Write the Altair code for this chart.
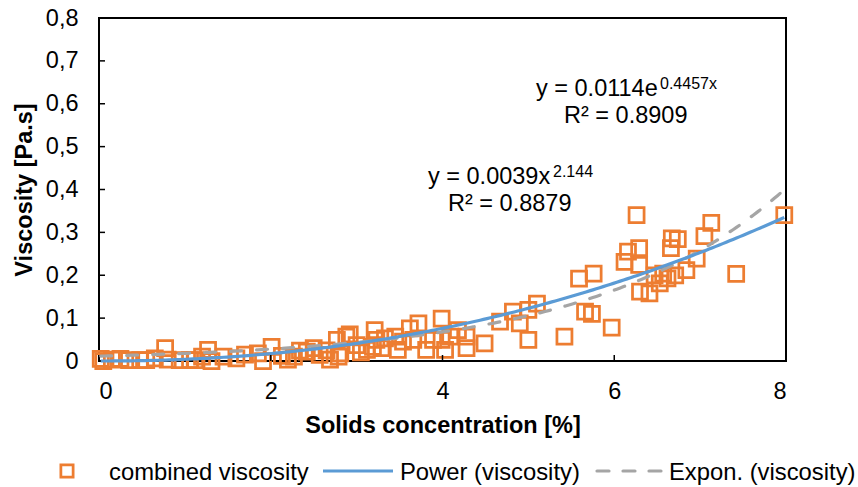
import altair as alt
import pandas as pd

# Measured viscosity against solids concentration
solids = [
    0.02, 0.05, 0.15, 0.25, 0.35, 0.48, 0.55, 0.65, 0.77, 0.80, 0.94, 1.06,
    1.12, 1.20, 1.27, 1.31, 1.45, 1.60, 1.70, 1.85, 1.91, 2.01, 2.13, 2.20,
    2.27, 2.34, 2.42, 2.50, 2.57, 2.65, 2.69, 2.77, 2.79, 2.81, 2.88, 2.92,
    3.00, 3.05, 3.12, 3.19, 3.21, 3.23, 3.29, 3.33, 3.45, 3.48, 3.54, 3.62,
    3.66, 3.72, 3.81, 3.89, 3.99, 3.99, 4.03, 4.09, 4.18, 4.28, 4.28, 4.49,
    4.67, 4.82, 4.90, 5.00, 5.00, 5.10, 5.42, 5.59, 5.66, 5.74, 5.76, 5.97,
    6.12, 6.16, 6.26, 6.29, 6.29, 6.30, 6.41, 6.47, 6.53, 6.57, 6.62, 6.66,
    6.67, 6.74, 6.71, 6.84, 6.96, 7.05, 7.13, 7.42, 7.98,
]
viscosity = [
    0.005, 0.000, 0.003, 0.005, 0.002, 0.002, 0.002, 0.006, 0.030, 0.003, 0.002, 0.002,
    0.002, 0.010, 0.026, 0.000, 0.010, 0.006, 0.015, 0.018, 0.000, 0.033, 0.012, 0.003,
    0.010, 0.024, 0.022, 0.030, 0.014, 0.025, 0.003, 0.049, 0.010, 0.018, 0.057, 0.062,
    0.037, 0.020, 0.026, 0.033, 0.072, 0.049, 0.030, 0.053, 0.057, 0.026, 0.045, 0.076,
    0.049, 0.088, 0.026, 0.049, 0.099, 0.049, 0.026, 0.057, 0.072, 0.057, 0.030, 0.041,
    0.092, 0.115, 0.088, 0.119, 0.049, 0.134, 0.057, 0.192, 0.115, 0.110, 0.204, 0.078,
    0.231, 0.255, 0.340, 0.263, 0.224, 0.162, 0.158, 0.200, 0.181, 0.204, 0.193, 0.263,
    0.286, 0.284, 0.200, 0.212, 0.239, 0.291, 0.322, 0.203, 0.340,
]

# Fitted trend lines
power_coef, power_exp, power_r2 = 0.0039, 2.144, 0.8879
expon_coef, expon_rate, expon_r2 = 0.0114, 0.4457, 0.8909

y_ticks = [0, 0.1, 0.2, 0.3, 0.4, 0.5, 0.6, 0.7, 0.8]
x_ticks = [0, 2, 4, 6, 8]

FONT = "Liberation Sans"
ORANGE = "#ED7D31"
BLUE = "#5B9BD5"
GREY = "#A5A5A5"
W, H = 687, 343
FS = 23.5      # general text size
SUP = 16       # exponent text size
LINE_W = 3.2
DASH = [11, 15]

points = pd.DataFrame({"solids": solids, "viscosity": viscosity})

x_scale = alt.Scale(domain=[0, 8], nice=False, zero=False)
y_scale = alt.Scale(domain=[0, 0.8], nice=False)

x_axis = alt.Axis(values=x_ticks, title="Solids concentration [%]", grid=False, format="d",
                  ticks=False, domain=False, labelPadding=18, titlePadding=11)
y_axis = alt.Axis(values=y_ticks, title="Viscosity [Pa.s]", grid=False,
                  ticks=False, domain=False, labelPadding=21, titlePadding=9,
                  labelExpr="datum.value == 0 ? '0' : replace(format(datum.value, '.1f'), '.', ',')")

scatter = alt.Chart(points).mark_point(
    shape="square", filled=False, color=ORANGE, strokeWidth=2.75, size=225, opacity=1
).encode(
    x=alt.X("solids:Q", scale=x_scale, axis=x_axis),
    y=alt.Y("viscosity:Q", scale=y_scale, axis=y_axis),
)

x_lo, x_hi = min(solids), max(solids)
curve = alt.Chart(alt.sequence(0, 201, 1, as_="i")).transform_calculate(
    x=f"{x_lo} + datum.i * ({x_hi} - {x_lo}) / 200",
    power=f"{power_coef} * pow(datum.x, {power_exp})",
    expon=f"{expon_coef} * exp({expon_rate} * datum.x)",
)

power_line = curve.mark_line(color=BLUE, strokeWidth=LINE_W).encode(
    x=alt.X("x:Q", scale=x_scale), y=alt.Y("power:Q", scale=y_scale)
)
expon_line = curve.mark_line(
    color=GREY, strokeWidth=LINE_W, strokeDash=DASH, strokeCap="round"
).encode(
    x=alt.X("x:Q", scale=x_scale), y=alt.Y("expon:Q", scale=y_scale)
)

# Inward-pointing tick marks
y_tick_df = pd.DataFrame({"t": y_ticks[1:-1]})
x_tick_df = pd.DataFrame({"t": x_ticks[1:-1]})
y_tick_marks = alt.Chart(y_tick_df).mark_rule(color="black", strokeWidth=1.5).encode(
    y=alt.Y("t:Q", scale=y_scale), x=alt.value(0), x2=alt.value(6)
)
x_tick_marks = alt.Chart(x_tick_df).mark_rule(color="black", strokeWidth=1.5).encode(
    x=alt.X("t:Q", scale=x_scale), y=alt.value(H), y2=alt.value(H - 6)
)

one = pd.DataFrame({"k": [0]})


def label(text, x, y, size=FS, align="left"):
    return alt.Chart(one).mark_text(
        text=text, align=align, baseline="alphabetic", font=FONT, fontSize=size, color="black"
    ).encode(x=alt.value(x), y=alt.value(y))


annotations = [
    label(f"y = {expon_coef}e", 437, 78),
    label(f"{expon_rate}x", 561, 70.5, size=SUP),
    label(f"R\u00b2 = {expon_r2}", 465, 105),
    label(f"y = {power_coef}x", 329, 166),
    label(f"{power_exp}", 454, 158.5, size=SUP),
    label(f"R\u00b2 = {power_r2}", 349, 192.5),
]

# Legend row under the axis title
LY = 453
LFS = 23.8
legend_marks = [
    alt.Chart(one).mark_point(shape="square", filled=False, color=ORANGE, strokeWidth=2.75,
                              size=150, opacity=1).encode(x=alt.value(-32), y=alt.value(LY)),
    label("combined viscosity", 10, LY + 8.5, size=LFS),
    alt.Chart(one).mark_rule(color=BLUE, strokeWidth=LINE_W).encode(
        x=alt.value(224), x2=alt.value(294), y=alt.value(LY)),
    label("Power (viscosity)", 301, LY + 8.5, size=LFS),
    alt.Chart(one).mark_rule(color=GREY, strokeWidth=LINE_W, strokeDash=[12, 14],
                             strokeCap="round").encode(
        x=alt.value(498), x2=alt.value(562), y=alt.value(LY)),
    label("Expon. (viscosity)", 570, LY + 8.5, size=LFS),
]

chart = alt.layer(
    scatter, expon_line, power_line, y_tick_marks, x_tick_marks, *annotations, *legend_marks
).properties(
    width=W, height=H,
    background="white",
    autosize=alt.AutoSizeParams(type="none"),
    padding={"left": 99, "top": 18, "right": 72, "bottom": 126},
).configure_view(
    stroke="black", strokeWidth=2
).configure_axis(
    labelFont=FONT, labelFontSize=FS, labelColor="black",
    titleFont=FONT, titleFontSize=FS, titleFontWeight="bold", titleColor="black",
)

chart.save("out.html", embed_options={"renderer": "svg", "actions": False})
